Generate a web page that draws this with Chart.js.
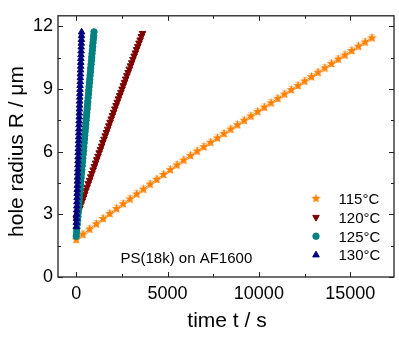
<!DOCTYPE html>
<html>
<head>
<meta charset="utf-8">
<script src="https://cdn.jsdelivr.net/npm/chart.js@4.4.1/dist/chart.umd.min.js"></script>
<style>
  html, body { margin: 0; padding: 0; background: #fff; }
  canvas { display: block; }
</style>
</head>
<body>
<canvas id="holeChart" width="399" height="342"></canvas>
<script>
// hole radius vs. time, PS(18k) on AF1600
const seriesLabels = ["115°C", "120°C", "125°C", "130°C"];

const t115 = [0, 368, 736, 1104, 1472, 1840, 2208, 2576, 2944, 3312, 3680, 4048, 4416, 4784, 5152,
  5520, 5888, 6256, 6624, 6992, 7360, 7728, 8096, 8464, 8832, 9200, 9568, 9936, 10304, 10672,
  11040, 11408, 11776, 12144, 12512, 12880, 13248, 13616, 13984, 14352, 14720, 15088, 15456, 15824, 16192];
const r115 = [1.80, 2.05, 2.30, 2.55, 2.80, 3.04, 3.28, 3.51, 3.74, 3.98, 4.21, 4.45, 4.68, 4.91, 5.14,
  5.37, 5.60, 5.82, 6.03, 6.24, 6.45, 6.66, 6.87, 7.08, 7.29, 7.50, 7.71, 7.92, 8.13, 8.34,
  8.55, 8.76, 8.97, 9.17, 9.38, 9.59, 9.80, 10.01, 10.22, 10.43, 10.63, 10.84, 11.05, 11.25, 11.45];
const err115 = 0.15;

const t120 = [0, 66, 132, 198, 264, 330, 396, 462, 528, 594, 660, 726, 792, 858, 924, 990, 1056, 1122,
  1188, 1254, 1320, 1386, 1452, 1518, 1584, 1650, 1716, 1782, 1848, 1914, 1980, 2046, 2112, 2178,
  2244, 2310, 2376, 2442, 2508, 2574, 2640, 2706, 2772, 2838, 2904, 2970, 3036, 3102, 3168, 3234,
  3300, 3366, 3432, 3498, 3564, 3630];
const r120 = [2.80, 2.97, 3.14, 3.30, 3.47, 3.64, 3.80, 3.97, 4.14, 4.30, 4.47, 4.63, 4.80, 4.96, 5.13,
  5.29, 5.46, 5.62, 5.78, 5.95, 6.11, 6.27, 6.44, 6.60, 6.76, 6.92, 7.08, 7.24, 7.41, 7.57, 7.73,
  7.89, 8.05, 8.21, 8.37, 8.53, 8.69, 8.84, 9.00, 9.16, 9.32, 9.48, 9.64, 9.79, 9.95, 10.11, 10.26,
  10.42, 10.58, 10.73, 10.89, 11.04, 11.20, 11.35, 11.51, 11.66];

const t125 = [0, 18, 36, 54, 72, 90, 108, 126, 144, 162, 180, 198, 216, 234, 252, 270, 288, 306, 324,
  342, 360, 378, 396, 414, 432, 450, 468, 486, 504, 522, 540, 558, 576, 594, 612, 630, 648, 666,
  684, 702, 720, 738, 756, 774, 792, 810, 828, 846, 864, 882, 900, 918, 936, 954, 972];
const r125 = [1.95, 2.14, 2.33, 2.52, 2.71, 2.90, 3.08, 3.27, 3.46, 3.65, 3.83, 4.02, 4.21, 4.39, 4.58,
  4.76, 4.95, 5.13, 5.32, 5.50, 5.68, 5.87, 6.05, 6.23, 6.42, 6.60, 6.78, 6.96, 7.14, 7.32, 7.50,
  7.68, 7.86, 8.04, 8.22, 8.40, 8.58, 8.75, 8.93, 9.11, 9.29, 9.46, 9.64, 9.81, 9.99, 10.17, 10.34,
  10.52, 10.69, 10.86, 11.04, 11.21, 11.38, 11.56, 11.73];

const t130 = [0, 6, 12, 18, 24, 30, 36, 42, 48, 54, 60, 66, 72, 78, 84, 90, 96, 102, 108, 114, 120,
  126, 132, 138, 144, 150, 156, 162, 168, 174, 180, 186, 192, 198, 204, 210, 216, 222, 228, 234,
  240, 246, 252, 258, 264, 270, 276, 282, 288, 294];
const r130 = [2.40, 2.60, 2.80, 3.00, 3.20, 3.39, 3.59, 3.79, 3.99, 4.18, 4.38, 4.58, 4.77, 4.97, 5.16,
  5.36, 5.55, 5.74, 5.94, 6.13, 6.32, 6.51, 6.70, 6.89, 7.08, 7.28, 7.46, 7.65, 7.84, 8.03, 8.22,
  8.41, 8.60, 8.78, 8.97, 9.16, 9.34, 9.53, 9.71, 9.90, 10.08, 10.26, 10.45, 10.63, 10.81, 11.00,
  11.18, 11.36, 11.54, 11.72];

const xTicks = [0, 5000, 10000, 15000];
const xMinor = [2500, 7500, 12500];
const yTicks = [0, 3, 6, 9, 12];
const yMinor = [1.5, 4.5, 7.5, 10.5];

const FONT = "'Liberation Sans', Arial, sans-serif";

// filled five-point star for the 115°C series
function makeStar(color) {
  const c = document.createElement('canvas');
  c.width = 11; c.height = 11;
  const g = c.getContext('2d');
  g.fillStyle = color;
  g.beginPath();
  for (let k = 0; k < 10; k++) {
    const rad = k % 2 === 0 ? 5 : 2.1;
    const a = -Math.PI / 2 + k * Math.PI / 5;
    const px = 5.5 + rad * Math.cos(a), py = 5.8 + rad * Math.sin(a);
    if (k === 0) g.moveTo(px, py); else g.lineTo(px, py);
  }
  g.closePath();
  g.fill();
  return c;
}
const star = makeStar('#ff8000');

function pts(ts, rs) { return ts.map((t, i) => ({ x: t, y: rs[i] })); }

const frame = {
  id: 'frame',
  beforeDatasetsDraw(chart) {
    const { ctx, scales: { x, y }, chartArea: a } = chart;
    ctx.save();
    ctx.beginPath();
    ctx.rect(a.left, a.top, a.right - a.left, a.bottom - a.top);
    ctx.clip();
    ctx.strokeStyle = 'rgba(255,150,60,0.55)';
    ctx.lineWidth = 1;
    t115.forEach((t, i) => {
      const px = x.getPixelForValue(t);
      const y1 = y.getPixelForValue(r115[i] - err115);
      const y2 = y.getPixelForValue(r115[i] + err115);
      ctx.beginPath();
      ctx.moveTo(px, y1); ctx.lineTo(px, y2);
      ctx.moveTo(px - 3, y1); ctx.lineTo(px + 3, y1);
      ctx.moveTo(px - 3, y2); ctx.lineTo(px + 3, y2);
      ctx.stroke();
    });
    ctx.restore();
  },
  afterDraw(chart) {
    const { ctx, scales: { x, y }, chartArea: a } = chart;
    ctx.save();
    ctx.strokeStyle = '#222';
    ctx.lineWidth = 1.3;
    ctx.strokeRect(a.left, a.top, a.right - a.left, a.bottom - a.top);
    ctx.lineWidth = 1;
    ctx.beginPath();
    const xt = (v, len) => {
      const p = Math.round(x.getPixelForValue(v)) + 0.5;
      ctx.moveTo(p, a.bottom); ctx.lineTo(p, a.bottom - len);
      ctx.moveTo(p, a.top); ctx.lineTo(p, a.top + len);
    };
    const yt = (v, len) => {
      const p = Math.round(y.getPixelForValue(v)) + 0.5;
      ctx.moveTo(a.left, p); ctx.lineTo(a.left + len, p);
      ctx.moveTo(a.right, p); ctx.lineTo(a.right - len, p);
    };
    xTicks.forEach(v => xt(v, 5));
    xMinor.forEach(v => xt(v, 3));
    yTicks.forEach(v => yt(v, 5));
    yMinor.forEach(v => yt(v, 3));
    ctx.stroke();

    // axis titles
    ctx.fillStyle = '#000';
    ctx.font = '21px ' + FONT;
    ctx.textAlign = 'center';
    ctx.textBaseline = 'alphabetic';
    ctx.fillText('time t / s', (a.left + a.right) / 2 + 1, 327);
    ctx.save();
    ctx.translate(23, 151.5);
    ctx.rotate(-Math.PI / 2);
    ctx.fillText('hole radius R / μm', 0, 0);
    ctx.restore();

    // sample note
    ctx.font = '15px ' + FONT;
    ctx.textAlign = 'left';
    ctx.fillText('PS(18k) on AF1600', 120.5, 262.5);

    // legend
    const rowY = [198.3, 217.3, 236.2, 255];
    chart.data.datasets.forEach((ds, i) => {
      ctx.fillStyle = ds.backgroundColor;
      ctx.strokeStyle = ds.borderColor;
      Chart.helpers.drawPoint(ctx, {
        pointStyle: ds.pointStyle, rotation: ds.pointRotation || 0,
        radius: ds.pointRadius, borderWidth: 1
      }, 316, rowY[i]);
      ctx.fillStyle = '#000';
      ctx.fillText(ds.label, 338.5, rowY[i] + 5.4);
    });
    ctx.restore();
  }
};

new Chart(document.getElementById('holeChart'), {
  type: 'line',
  data: {
    datasets: [
      { label: seriesLabels[0], data: pts(t115, r115), borderColor: '#ff8000', backgroundColor: '#ff8000',
        pointStyle: star, pointRadius: 4, borderWidth: 1, order: 4 },
      { label: seriesLabels[1], data: pts(t120, r120), borderColor: '#800000', backgroundColor: '#800000',
        pointStyle: 'triangle', pointRotation: 180, pointRadius: 3.8, borderWidth: 1, order: 3 },
      { label: seriesLabels[2], data: pts(t125, r125), borderColor: '#008080', backgroundColor: '#008080',
        pointStyle: 'circle', pointRadius: 3.2, borderWidth: 1, order: 2 },
      { label: seriesLabels[3], data: pts(t130, r130), borderColor: '#000080', backgroundColor: '#000080',
        pointStyle: 'triangle', pointRadius: 3.8, borderWidth: 1, order: 1 }
    ]
  },
  options: {
    responsive: false,
    animation: false,
    devicePixelRatio: 1,
    layout: { padding: { top: 4, right: 4, left: 0, bottom: 0 } },
    plugins: { legend: { display: false }, tooltip: { enabled: false } },
    elements: { line: { tension: 0 }, point: { pointBorderWidth: 1 } },
    scales: {
      x: {
        type: 'linear', min: -1000, max: 17400,
        grid: { display: false, drawTicks: false }, border: { display: false },
        afterBuildTicks: s => { s.ticks = xTicks.map(v => ({ value: v })); },
        afterFit: s => { s.height = 65; },
        ticks: { color: '#000', padding: 6, maxRotation: 0, font: { family: FONT, size: 18 },
          callback: v => String(v) }
      },
      y: {
        type: 'linear', min: 0, max: 12.5,
        grid: { display: false, drawTicks: false }, border: { display: false },
        afterBuildTicks: s => { s.ticks = yTicks.map(v => ({ value: v })); },
        afterFit: s => { s.width = 58; },
        ticks: { color: '#000', padding: 5, font: { family: FONT, size: 18 },
          callback: v => String(v) }
      }
    }
  },
  plugins: [frame]
});
</script>
</body>
</html>
